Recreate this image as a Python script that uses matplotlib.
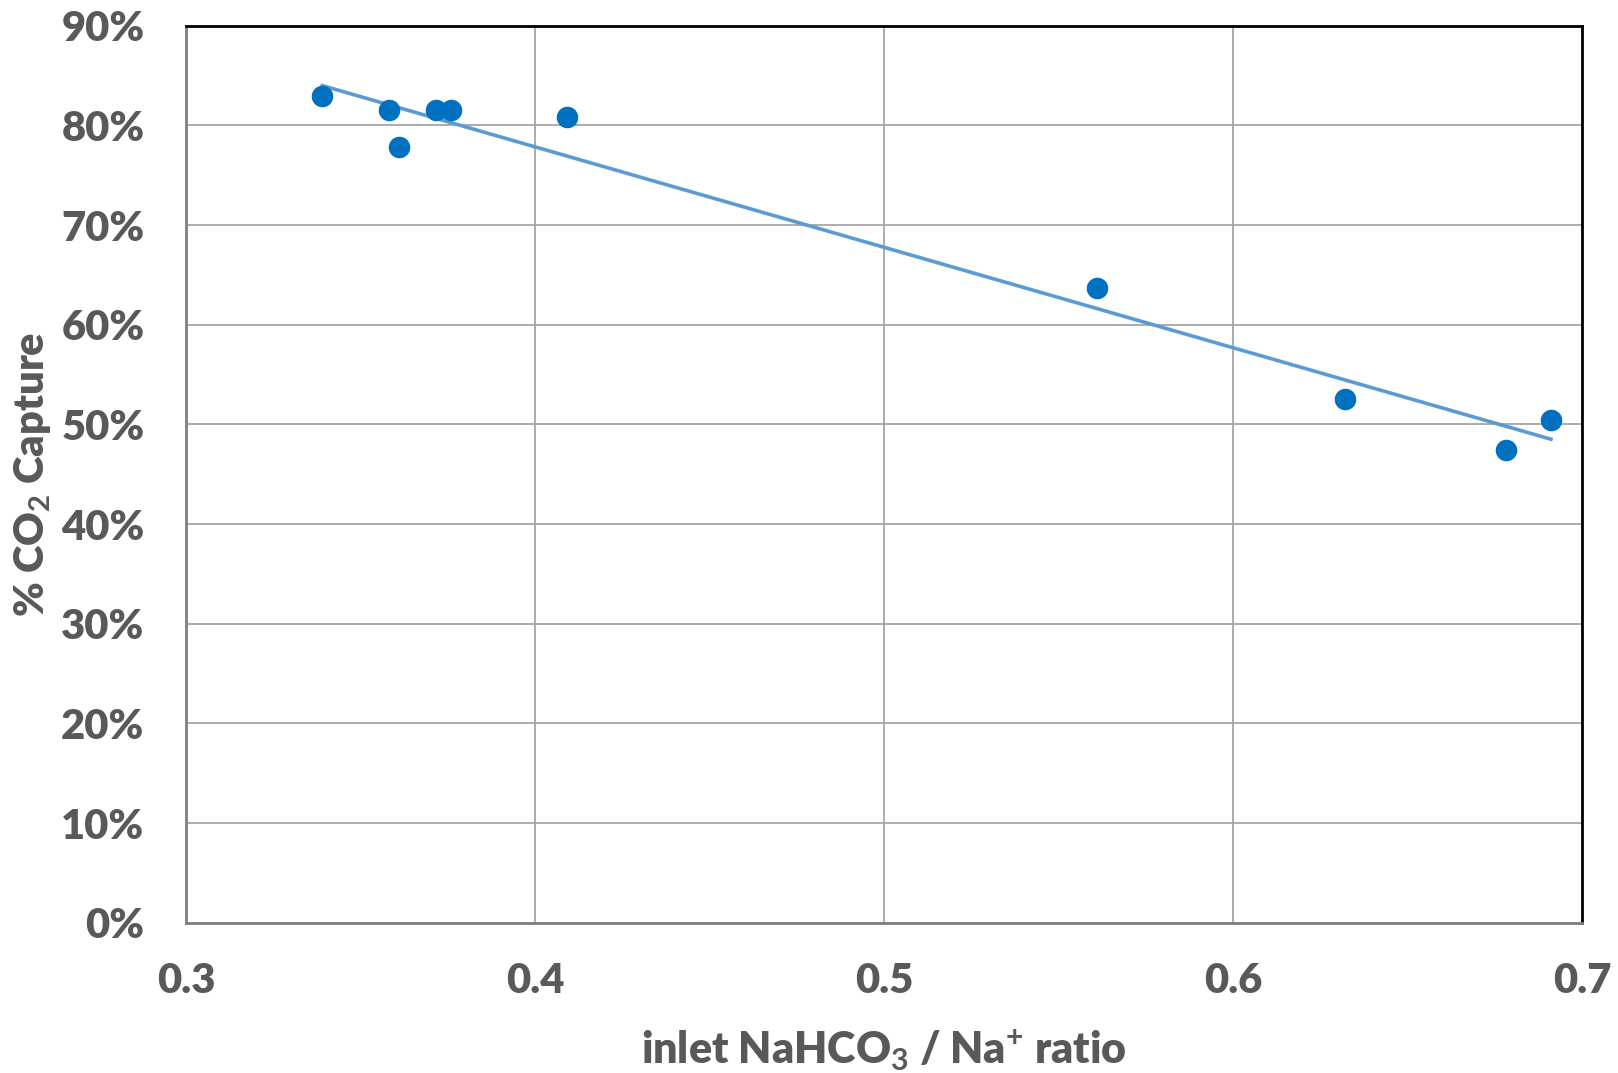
import numpy as np
import matplotlib
matplotlib.use("Agg")
import matplotlib.pyplot as plt
from matplotlib.ticker import FuncFormatter

ratio = [0.339, 0.358, 0.361, 0.3715, 0.376, 0.409, 0.561, 0.632, 0.678, 0.691]
capture = [83.0, 81.5, 77.8, 81.5, 81.5, 80.8, 63.7, 52.6, 47.4, 50.4]
x_ticks = [0.3, 0.4, 0.5, 0.6, 0.7]
y_ticks = [0, 10, 20, 30, 40, 50, 60, 70, 80, 90]

plt.rcParams['font.family'] = ['Lato', 'DejaVu Sans']
plt.rcParams['mathtext.fontset'] = 'custom'
plt.rcParams['mathtext.rm'] = 'Lato:bold'
plt.rcParams['mathtext.default'] = 'rm'

txt = '#595959'
fig = plt.figure(figsize=(16.18, 10.73), dpi=100)
ax = fig.add_axes([0.115, 0.140, 0.863, 0.836])

ax.set_xlim(0.3, 0.7)
ax.set_ylim(0, 90)
ax.set_xticks(x_ticks)
ax.set_yticks(y_ticks)
ax.xaxis.set_major_formatter(FuncFormatter(lambda v, p: f"{v:.1f}"))
ax.yaxis.set_major_formatter(FuncFormatter(lambda v, p: f"{v:.0f}%"))
ax.grid(True, color='#A6A6A6', linewidth=1.3)
ax.set_axisbelow(True)
ax.tick_params(length=0, labelsize=30, labelcolor=txt)
for lab in ax.get_xticklabels() + ax.get_yticklabels():
    lab.set_fontweight('heavy')
ax.tick_params(axis='y', pad=30)
ax.tick_params(axis='x', pad=28)

for s in ['top', 'right']:
    ax.spines[s].set_color('black')
    ax.spines[s].set_linewidth(2)
for s in ['left', 'bottom']:
    ax.spines[s].set_color('#7F7F7F')
    ax.spines[s].set_linewidth(2)

xa = np.array(ratio)
ya = np.array(capture)
m, b = np.polyfit(xa, ya, 1)
xl = np.array([xa.min(), xa.max()])
ax.plot(xl, m * xl + b, color='#5B9BD5', linewidth=2.6, zorder=2)
ax.plot(xa, ya, 'o', color='#0070C0', markersize=14.5, zorder=3)

ax.set_xlabel(r'inlet NaHCO$_3$ / Na$^{+}$ ratio', fontsize=31, fontweight='heavy', color=txt, labelpad=20)
ax.set_ylabel(r'% CO$_2$ Capture', fontsize=30, fontweight='heavy', color=txt, labelpad=6)

fig.savefig('out.png', dpi=100)
